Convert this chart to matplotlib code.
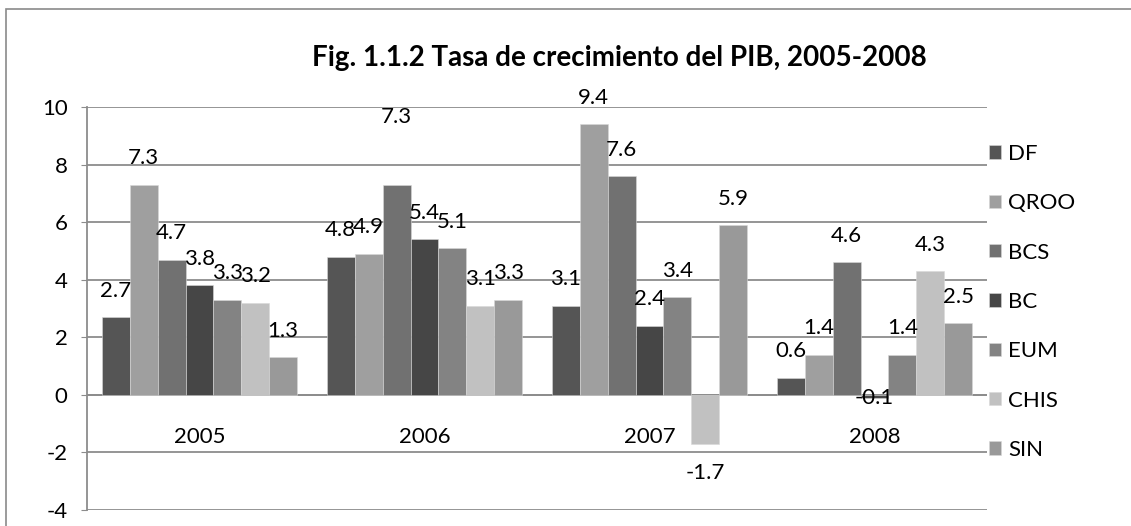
import numpy as np
import matplotlib
matplotlib.use("Agg")
import matplotlib.pyplot as plt
from matplotlib.patches import Rectangle

plt.rcParams['font.family'] = ['Lato', 'DejaVu Sans']
plt.rcParams['axes.unicode_minus'] = False

years = ["2005", "2006", "2007", "2008"]
series = ["DF", "QROO", "BCS", "BC", "EUM", "CHIS", "SIN"]
df = [2.7, 4.8, 3.1, 0.6]
qroo = [7.3, 4.9, 9.4, 1.4]
bcs = [4.7, 7.3, 7.6, 4.6]
bc = [3.8, 5.4, 2.4, -0.1]
eum = [3.3, 5.1, 3.4, 1.4]
chis = [3.2, 3.1, -1.7, 4.3]
sin = [1.3, 3.3, 5.9, 2.5]
values = [df, qroo, bcs, bc, eum, chis, sin]

colors = ["#555555", "#9f9f9f", "#717171", "#464646", "#838383", "#c1c1c1", "#999999"]
# a couple of labels that excel put somewhere odd (offset in points)
nudge = {(1, 2): 49, (3, 3): 0}

W, H = 1131, 526
fig = plt.figure(figsize=(W / 100, H / 100), dpi=100)
fig.patches.append(Rectangle((6 / W, -0.1), 1.2, 1 - 9 / H + 0.1, transform=fig.transFigure,
                             fill=False, edgecolor="#8a8a8a", lw=1.2))

ax = fig.add_axes([87 / W, 16 / H, 900 / W, 403 / H])
x = np.arange(len(years))
bw = 0.124
for i, (name, vals) in enumerate(zip(series, values)):
    pos = x + (i - 3) * bw
    ax.bar(pos, vals, bw, color=colors[i], label=name, zorder=3, edgecolor="#d8d8d8", linewidth=0.4)
    for j, v in enumerate(vals):
        if (j, i) in nudge:
            off = nudge[(j, i)]
        else:
            off = 19 if v >= 0 else -21
        ax.annotate(f"{v:.1f}", (pos[j], v), xytext=(0, off), textcoords="offset points",
                    ha="center", va="center", fontsize=16, color="black", zorder=4)

ax.set_xlim(-0.5, 3.5)
ax.set_ylim(-4, 10)
ax.set_yticks(range(-4, 11, 2))
ax.yaxis.grid(True, color="#8c8c8c", lw=1.3, zorder=1)
ax.axhline(0, color="#8c8c8c", lw=1.3, zorder=2)
for s in ["top", "right", "bottom"]:
    ax.spines[s].set_visible(False)
ax.spines["left"].set_color("#8c8c8c")
ax.spines["left"].set_linewidth(1.3)
ax.tick_params(axis="y", labelsize=16, length=4, color="#8c8c8c", pad=10, labelcolor="black")
ax.set_xticks([])
for j, yr in enumerate(years):
    ax.text(x[j], -1.45, yr, ha="center", va="center", fontsize=16)

fig.text(619 / W, 1 - 58 / H, "Fig. 1.1.2 Tasa de crecimiento del PIB, 2005-2008",
         ha="center", va="center", fontsize=20, fontweight="bold")

fig.legend(loc="center left", bbox_to_anchor=(989 / W, 1 - 302 / H), frameon=False,
           fontsize=16, handlelength=0.55, handleheight=0.55, handletextpad=0.3,
           labelspacing=1.32, borderpad=0, borderaxespad=0)

fig.savefig("out.png", dpi=100)
